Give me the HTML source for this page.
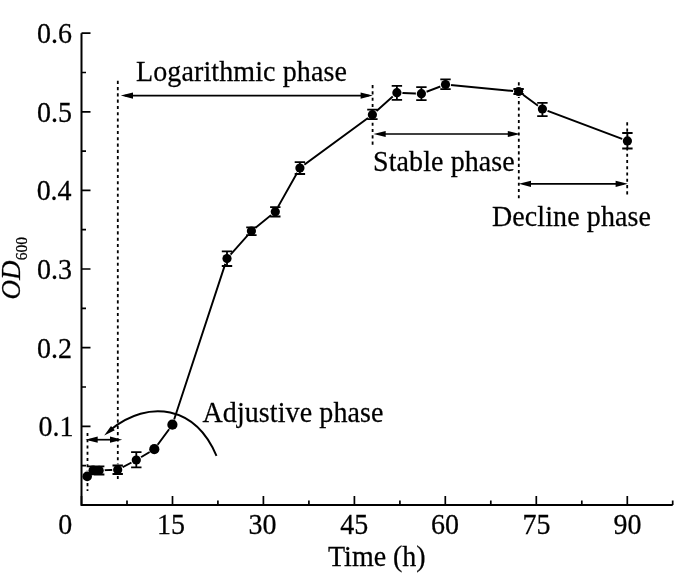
<!DOCTYPE html><html><head><meta charset="utf-8"><style>html,body{margin:0;padding:0;background:#fff;}svg{display:block;will-change:transform;}text{font-family:"Liberation Serif",serif;fill:#000;stroke:#000;stroke-width:0.25px;}</style></head><body>
<svg width="686" height="586" viewBox="0 0 686 586">
<text transform="translate(73.50 436.28) scale(1 1.05)" font-size="28" text-anchor="end">0.1</text>
<text transform="translate(72.00 357.66) scale(1 1.05)" font-size="28" text-anchor="end">0.2</text>
<text transform="translate(72.00 279.04) scale(1 1.05)" font-size="28" text-anchor="end">0.3</text>
<text transform="translate(71.60 200.42) scale(1 1.05)" font-size="28" text-anchor="end">0.4</text>
<text transform="translate(72.00 121.80) scale(1 1.05)" font-size="28" text-anchor="end">0.5</text>
<text transform="translate(71.90 43.18) scale(1 1.05)" font-size="28" text-anchor="end">0.6</text>
<text transform="translate(65.20 534.10) scale(1 1.05)" font-size="28" text-anchor="middle">0</text>
<text transform="translate(171.00 534.10) scale(1 1.05)" font-size="28" text-anchor="middle">15</text>
<text transform="translate(262.50 534.10) scale(1 1.05)" font-size="28" text-anchor="middle">30</text>
<text transform="translate(354.20 534.10) scale(1 1.05)" font-size="28" text-anchor="middle">45</text>
<text transform="translate(445.10 534.10) scale(1 1.05)" font-size="28" text-anchor="middle">60</text>
<text transform="translate(536.60 534.10) scale(1 1.05)" font-size="28" text-anchor="middle">75</text>
<text transform="translate(627.40 534.10) scale(1 1.05)" font-size="28" text-anchor="middle">90</text>
<text transform="translate(328.00 566.00) scale(1 1.05)" font-size="28">Time (h)</text>
<text transform="translate(19.9 299.6) rotate(-90) scale(1 1.05)" font-size="27"><tspan font-style="italic">OD</tspan><tspan font-size="15.5" dx="0.5" dy="6.6">600</tspan></text>
<line x1="87.5" y1="432.9" x2="87.5" y2="491" stroke="#000" stroke-width="1.8" stroke-dasharray="3.1 3.173"/>
<line x1="117.8" y1="80.8" x2="117.8" y2="479" stroke="#000" stroke-width="1.8" stroke-dasharray="3.1 3.173"/>
<line x1="372.6" y1="85.1" x2="372.6" y2="146.5" stroke="#000" stroke-width="1.8" stroke-dasharray="3.1 3.173"/>
<line x1="518.8" y1="82.3" x2="518.8" y2="199" stroke="#000" stroke-width="1.8" stroke-dasharray="3.1 3.173"/>
<line x1="627.2" y1="122.3" x2="627.2" y2="195" stroke="#000" stroke-width="1.8" stroke-dasharray="3.1 3.173"/>
<line x1="89.5" y1="439.7" x2="118.2" y2="439.7" stroke="#000" stroke-width="1.7"/>
<path d="M85.50 439.70 L97.70 436.60 L97.70 442.80Z" fill="#000"/>
<path d="M122.20 439.70 L110.00 442.80 L110.00 436.60Z" fill="#000"/>
<line x1="124.8" y1="95.6" x2="368.8" y2="95.6" stroke="#000" stroke-width="1.7"/>
<path d="M120.80 95.60 L133.00 92.50 L133.00 98.70Z" fill="#000"/>
<path d="M372.80 95.60 L360.60 98.70 L360.60 92.50Z" fill="#000"/>
<line x1="377.5" y1="134" x2="516" y2="134" stroke="#000" stroke-width="1.7"/>
<path d="M373.50 134.00 L385.70 130.90 L385.70 137.10Z" fill="#000"/>
<path d="M520.00 134.00 L507.80 137.10 L507.80 130.90Z" fill="#000"/>
<line x1="522.8" y1="183.8" x2="623.8" y2="183.8" stroke="#000" stroke-width="1.7"/>
<path d="M518.80 183.80 L531.00 180.70 L531.00 186.90Z" fill="#000"/>
<path d="M627.80 183.80 L615.60 186.90 L615.60 180.70Z" fill="#000"/>
<path d="M110.60 429.66 C149.28 398.58 195.52 406.43 216.5 455.9" fill="none" stroke="#000" stroke-width="1.95"/>
<path d="M104.20 435.60 L111.03 425.90 L114.81 430.30Z" fill="#000"/>
<text transform="translate(136.00 81.00) scale(1 1.05)" font-size="28" letter-spacing="0.12">Logarithmic phase</text>
<text transform="translate(373.00 171.00) scale(1 1.05)" font-size="28" letter-spacing="0.1">Stable phase</text>
<text transform="translate(202.50 421.50) scale(1 1.05)" font-size="28" letter-spacing="0.1">Adjustive phase</text>
<text transform="translate(492.00 226.00) scale(1 1.05)" font-size="28" letter-spacing="0.1">Decline phase</text>
<path d="M87.2 476.4 L93.1 470.2 L99.2 470.4 L117.7 469.8 L136.3 460.0 L154.3 449.2 L172.4 424.7 L227.0 258.6 L251.4 231.1 L275.3 211.7 L299.9 168.0 L372.4 114.7 L396.9 92.7 L421.4 93.7 L445.5 84.5 L518.6 91.5 L542.4 109.0 L627.4 140.9" fill="none" stroke="#000" stroke-width="1.9"/>
<circle cx="87.2" cy="476.4" r="5.6" fill="#fff"/>
<circle cx="93.1" cy="470.2" r="5.6" fill="#fff"/>
<circle cx="99.2" cy="470.4" r="5.6" fill="#fff"/>
<circle cx="117.7" cy="469.8" r="5.6" fill="#fff"/>
<circle cx="136.3" cy="460.0" r="5.6" fill="#fff"/>
<circle cx="154.3" cy="449.2" r="5.6" fill="#fff"/>
<circle cx="172.4" cy="424.7" r="5.6" fill="#fff"/>
<circle cx="227.0" cy="258.6" r="5.6" fill="#fff"/>
<circle cx="251.4" cy="231.1" r="5.6" fill="#fff"/>
<circle cx="275.3" cy="211.7" r="5.6" fill="#fff"/>
<circle cx="299.9" cy="168.0" r="5.6" fill="#fff"/>
<circle cx="372.4" cy="114.7" r="5.6" fill="#fff"/>
<circle cx="396.9" cy="92.7" r="5.6" fill="#fff"/>
<circle cx="421.4" cy="93.7" r="5.6" fill="#fff"/>
<circle cx="445.5" cy="84.5" r="5.6" fill="#fff"/>
<circle cx="518.6" cy="91.5" r="5.6" fill="#fff"/>
<circle cx="542.4" cy="109.0" r="5.6" fill="#fff"/>
<circle cx="627.4" cy="140.9" r="5.6" fill="#fff"/>
<path d="M93.1 466.3V474.3M87.9 466.3h10.4M87.9 474.3h10.4 M99.2 466.3V474.5M94.0 466.3h10.4M94.0 474.5h10.4 M117.7 465.5V474.0M112.5 465.5h10.4M112.5 474.0h10.4 M136.3 452.1V467.3M131.1 452.1h10.4M131.1 467.3h10.4 M227.0 251.4V266.0M221.8 251.4h10.4M221.8 266.0h10.4 M251.4 227.3V235.1M246.2 227.3h10.4M246.2 235.1h10.4 M275.3 207.2V216.5M270.1 207.2h10.4M270.1 216.5h10.4 M299.9 162.2V174.0M294.7 162.2h10.4M294.7 174.0h10.4 M372.4 109.6V119.2M367.2 109.6h10.4M367.2 119.2h10.4 M396.9 85.9V99.8M391.7 85.9h10.4M391.7 99.8h10.4 M421.4 87.1V100.2M416.2 87.1h10.4M416.2 100.2h10.4 M445.5 79.4V89.2M440.3 79.4h10.4M440.3 89.2h10.4 M518.6 89.0V94.0M513.4 89.0h10.4M513.4 94.0h10.4 M542.4 102.9V116.1M537.2 102.9h10.4M537.2 116.1h10.4 M627.4 133.0V148.5M622.2 133.0h10.4M622.2 148.5h10.4" fill="none" stroke="#000" stroke-width="1.8"/>
<circle cx="87.2" cy="476.4" r="4.8" fill="#000"/>
<circle cx="93.1" cy="470.2" r="4.6" fill="#000"/>
<circle cx="99.2" cy="470.4" r="4.6" fill="#000"/>
<circle cx="117.7" cy="469.8" r="4.6" fill="#000"/>
<circle cx="136.3" cy="460.0" r="4.6" fill="#000"/>
<circle cx="154.3" cy="449.2" r="5.1" fill="#000"/>
<circle cx="172.4" cy="424.7" r="5.1" fill="#000"/>
<circle cx="227.0" cy="258.6" r="4.6" fill="#000"/>
<circle cx="251.4" cy="231.1" r="4.6" fill="#000"/>
<circle cx="275.3" cy="211.7" r="4.6" fill="#000"/>
<circle cx="299.9" cy="168.0" r="4.6" fill="#000"/>
<circle cx="372.4" cy="114.7" r="4.6" fill="#000"/>
<circle cx="396.9" cy="92.7" r="4.6" fill="#000"/>
<circle cx="421.4" cy="93.7" r="4.6" fill="#000"/>
<circle cx="445.5" cy="84.5" r="4.6" fill="#000"/>
<circle cx="518.6" cy="91.5" r="4.6" fill="#000"/>
<circle cx="542.4" cy="109.0" r="4.6" fill="#000"/>
<circle cx="627.4" cy="140.9" r="4.6" fill="#000"/>
<path d="M81.5 33.2 V504.9 H672.7" fill="none" stroke="#000" stroke-width="2"/>
<path d="M81.5 504.9h9 M81.5 465.6h4.5 M81.5 426.3h9 M81.5 387.0h4.5 M81.5 347.7h9 M81.5 308.3h4.5 M81.5 269.0h9 M81.5 229.7h4.5 M81.5 190.4h9 M81.5 151.1h4.5 M81.5 111.8h9 M81.5 72.5h4.5 M81.5 33.2h9 M81.5 504.9v-9 M127.0 504.9v-4.5 M172.5 504.9v-9 M217.9 504.9v-4.5 M263.4 504.9v-9 M308.9 504.9v-4.5 M354.4 504.9v-9 M399.9 504.9v-4.5 M445.3 504.9v-9 M490.8 504.9v-4.5 M536.3 504.9v-9 M581.8 504.9v-4.5 M627.3 504.9v-9 M672.7 504.9v-4.5" fill="none" stroke="#000" stroke-width="1.7"/>
</svg></body></html>
